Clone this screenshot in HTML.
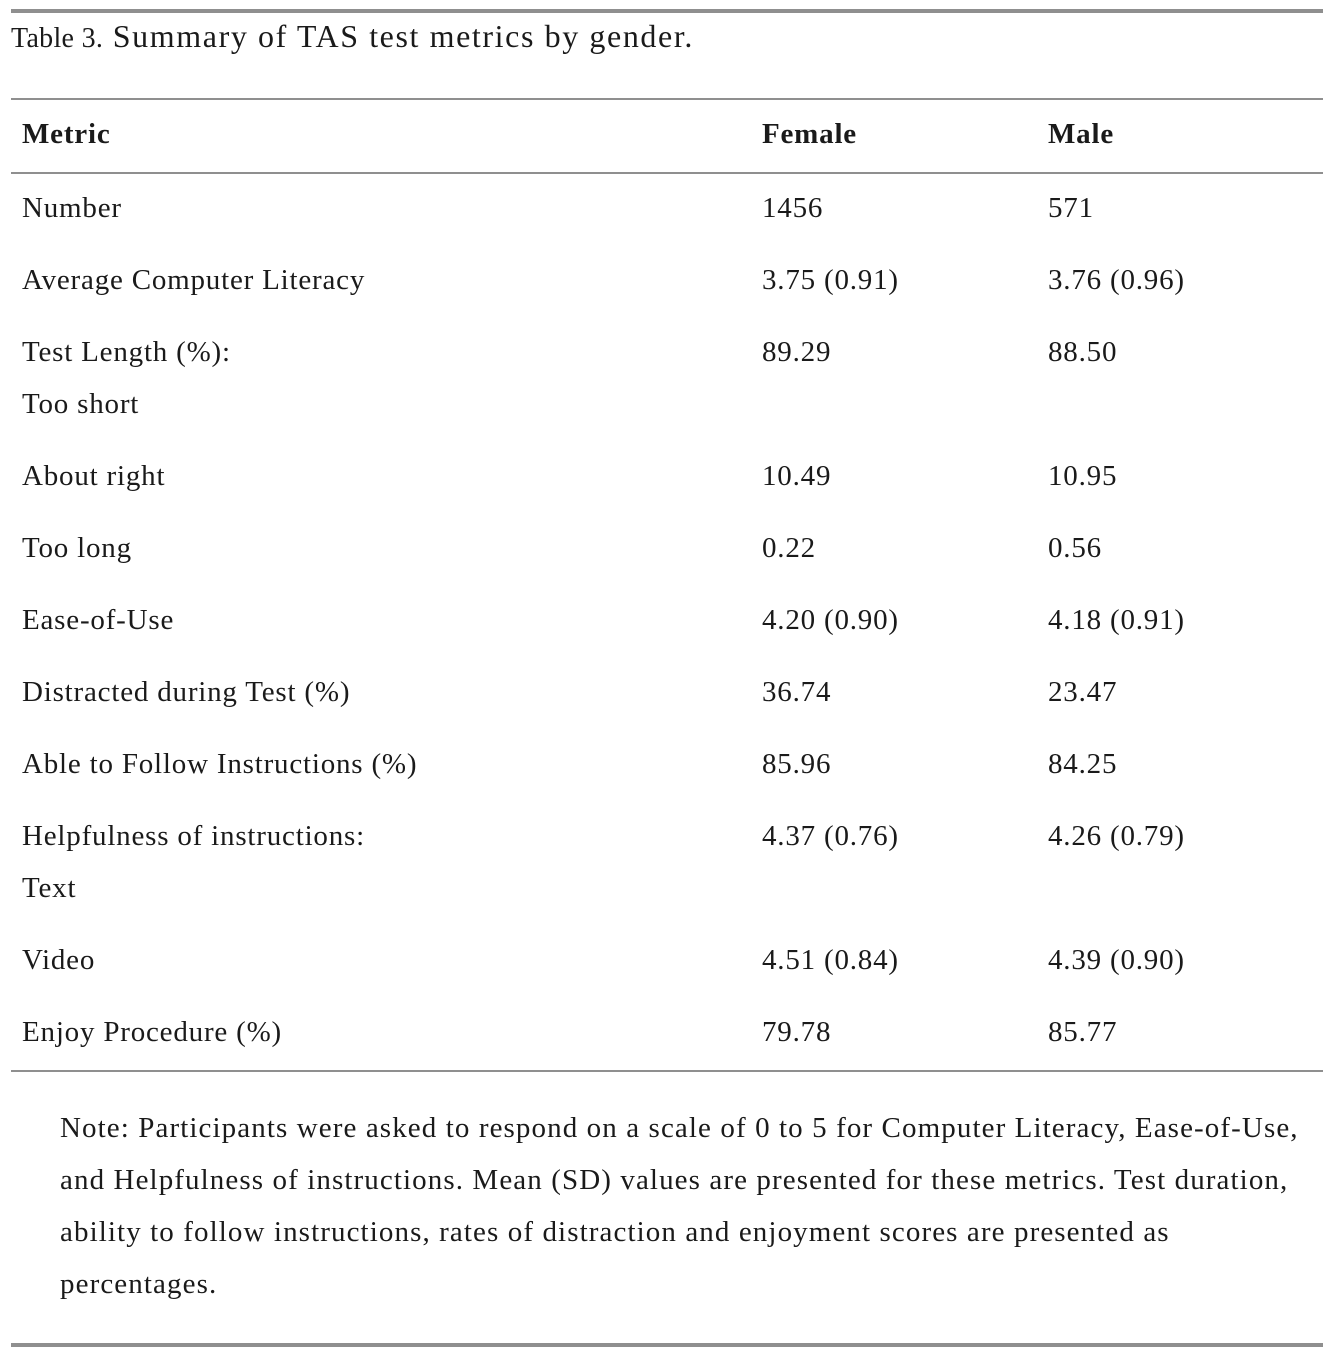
<!DOCTYPE html>
<html><head><style>
body{margin:0;width:1342px;height:1356px;background:#fff;position:relative;font-family:"Liberation Serif",serif;color:#1a1a1a;overflow:hidden}
.l{position:absolute;left:11px;width:1312px;background:#8f8f8f}
.t{position:absolute;line-height:40px;font-size:29px;letter-spacing:0.8px;white-space:nowrap}
.n{letter-spacing:1.1px}
.b{font-weight:bold}
</style></head><body>
<div class="l" style="top:9px;height:4px"></div>
<div class="t" style="left:11px;top:16px;font-size:32px;letter-spacing:1.6px"><span style="font-size:28px;letter-spacing:0.3px">Table 3.</span> Summary of TAS test metrics by gender.</div>
<div class="l" style="top:98px;height:2px"></div>
<div class="t b" style="left:22px;top:114px">Metric</div>
<div class="t b" style="left:762px;top:114px">Female</div>
<div class="t b" style="left:1048px;top:114px">Male</div>
<div class="l" style="top:172px;height:2px"></div>

<div class="t" style="left:22px;top:188px">Number</div><div class="t" style="left:762px;top:188px">1456</div><div class="t" style="left:1048px;top:188px">571</div>
<div class="t" style="left:22px;top:260px">Average Computer Literacy</div><div class="t" style="left:762px;top:260px">3.75 (0.91)</div><div class="t" style="left:1048px;top:260px">3.76 (0.96)</div>
<div class="t" style="left:22px;top:332px">Test Length (%):</div><div class="t" style="left:762px;top:332px">89.29</div><div class="t" style="left:1048px;top:332px">88.50</div>
<div class="t" style="left:22px;top:384px">Too short</div>
<div class="t" style="left:22px;top:456px">About right</div><div class="t" style="left:762px;top:456px">10.49</div><div class="t" style="left:1048px;top:456px">10.95</div>
<div class="t" style="left:22px;top:528px">Too long</div><div class="t" style="left:762px;top:528px">0.22</div><div class="t" style="left:1048px;top:528px">0.56</div>
<div class="t" style="left:22px;top:600px">Ease-of-Use</div><div class="t" style="left:762px;top:600px">4.20 (0.90)</div><div class="t" style="left:1048px;top:600px">4.18 (0.91)</div>
<div class="t" style="left:22px;top:672px">Distracted during Test (%)</div><div class="t" style="left:762px;top:672px">36.74</div><div class="t" style="left:1048px;top:672px">23.47</div>
<div class="t" style="left:22px;top:744px">Able to Follow Instructions (%)</div><div class="t" style="left:762px;top:744px">85.96</div><div class="t" style="left:1048px;top:744px">84.25</div>
<div class="t" style="left:22px;top:816px">Helpfulness of instructions:</div><div class="t" style="left:762px;top:816px">4.37 (0.76)</div><div class="t" style="left:1048px;top:816px">4.26 (0.79)</div>
<div class="t" style="left:22px;top:868px">Text</div>
<div class="t" style="left:22px;top:940px">Video</div><div class="t" style="left:762px;top:940px">4.51 (0.84)</div><div class="t" style="left:1048px;top:940px">4.39 (0.90)</div>
<div class="t" style="left:22px;top:1012px">Enjoy Procedure (%)</div><div class="t" style="left:762px;top:1012px">79.78</div><div class="t" style="left:1048px;top:1012px">85.77</div>
<div class="l" style="top:1070px;height:2px"></div>

<div class="t n" style="left:60px;top:1108px">Note: Participants were asked to respond on a scale of 0 to 5 for Computer Literacy, Ease-of-Use,</div>
<div class="t n" style="left:60px;top:1160px">and Helpfulness of instructions. Mean (SD) values are presented for these metrics. Test duration,</div>
<div class="t n" style="left:60px;top:1212px">ability to follow instructions, rates of distraction and enjoyment scores are presented as</div>
<div class="t n" style="left:60px;top:1264px">percentages.</div>
<div class="l" style="top:1343px;height:4px"></div>
</body></html>
